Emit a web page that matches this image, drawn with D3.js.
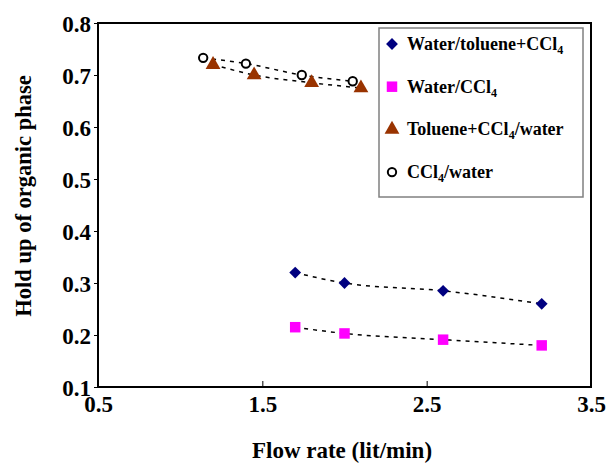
<!DOCTYPE html>
<html>
<head>
<meta charset="utf-8">
<script src="https://cdn.jsdelivr.net/npm/d3@7"></script>
<style>
  body { margin: 0; background: #fff; }
</style>
</head>
<body>
<div id="chart"></div>
<script>
// flow rate (lit/min) and hold up of organic phase
const flowWater = [1.7, 2.0, 2.6, 3.2]
const holdWaterTolueneCCl4 = [0.32, 0.30, 0.285, 0.26]
const holdWaterCCl4 = [0.215, 0.203, 0.191, 0.18]
const flowTolueneCCl4 = [1.2, 1.45, 1.8, 2.1]
const holdTolueneCCl4Water = [0.72, 0.70, 0.685, 0.675]
const flowCCl4 = [1.14, 1.4, 1.74, 2.05]
const holdCCl4Water = [0.733, 0.722, 0.70, 0.688]

const xTicks = [0.5, 1.5, 2.5, 3.5]
const yTicks = [0.1, 0.2, 0.3, 0.4, 0.5, 0.6, 0.7, 0.8]

// legend labels: [before subscript, subscript, after subscript]
const legendLabels = [
    ["Water/toluene+CCl", "4", ""],
    ["Water/CCl", "4", ""],
    ["Toluene+CCl", "4", "/water"],
    ["CCl", "4", "/water"]
]

const FONT = "'Times New Roman', 'Liberation Serif', 'DejaVu Serif', serif"

const config = {
    svgWidth: 607,
    svgHeight: 463,
    left: 98,
    right: 591,
    top: 23,
    bottom: 387
}

const series = [
    { x: flowWater, y: holdWaterTolueneCCl4, shape: "diamond", color: "#000080" },
    { x: flowWater, y: holdWaterCCl4, shape: "square", color: "#ff00ff" },
    { x: flowTolueneCCl4, y: holdTolueneCCl4Water, shape: "triangle", color: "#993300" },
    { x: flowCCl4, y: holdCCl4Water, shape: "circle", color: "#fff" }
]

var xScale = d3.scaleLinear().domain([0.5, 3.5]).range([config.left, config.right])
var yScale = d3.scaleLinear().domain([0.1, 0.8]).range([config.bottom, config.top])

const svg = d3.select("#chart")
    .append("svg")
    .attr("width", config.svgWidth)
    .attr("height", config.svgHeight)

// frame
svg.append("rect")
    .attr("x", config.left)
    .attr("y", config.top)
    .attr("width", config.right - config.left)
    .attr("height", config.bottom - config.top)
    .attr("fill", "none")
    .attr("stroke", "#000")
    .attr("stroke-width", 2)

// x axis, ticks pointing inward
const xAxis = svg.append("g")
    .attr("transform", `translate(0,${config.bottom})`)
    .call(d3.axisBottom(xScale).tickValues(xTicks).tickSizeInner(-6).tickSizeOuter(0)
        .tickFormat(d3.format(".1f")))
xAxis.select(".domain").remove()
xAxis.selectAll("line").attr("stroke-width", 1)
xAxis.selectAll("text")
    .attr("y", 25)
    .attr("dy", 0)
    .attr("font-size", 23)
    .attr("font-family", FONT)
    .attr("font-weight", "bold")
    .attr("fill", "#000")

// y axis
const yAxis = svg.append("g")
    .attr("transform", `translate(${config.left},0)`)
    .call(d3.axisLeft(yScale).tickValues(yTicks).tickSizeInner(4).tickSizeOuter(0)
        .tickFormat(d3.format(".1f")))
yAxis.select(".domain").remove()
yAxis.selectAll("line").attr("stroke-width", 1)
yAxis.selectAll("text")
    .attr("x", -7)
    .attr("dy", "0.35em")
    .attr("font-size", 23)
    .attr("font-family", FONT)
    .attr("font-weight", "bold")
    .attr("fill", "#000")

// axis titles
svg.append("text")
    .attr("x", 342)
    .attr("y", 458)
    .attr("text-anchor", "middle")
    .attr("font-size", 23)
    .attr("font-family", FONT)
    .attr("font-weight", "bold")
    .text("Flow rate (lit/min)")

svg.append("text")
    .attr("transform", "translate(31,196) rotate(-90)")
    .attr("text-anchor", "middle")
    .attr("font-size", 22.5)
    .attr("font-family", FONT)
    .attr("font-weight", "bold")
    .text("Hold up of organic phase")

// dashed trend lines
const line = d3.line()
    .x(d => xScale(d[0]))
    .y(d => yScale(d[1]))
    .curve(d3.curveMonotoneX)

series.forEach(s => {
    svg.append("path")
        .datum(s.x.map((v, i) => [v, s.y[i]]))
        .attr("d", line)
        .attr("fill", "none")
        .attr("stroke", "#000")
        .attr("stroke-width", 1.5)
        .attr("stroke-dasharray", "4,5")
})

const symbols = {
    diamond: d3.symbol().type(d3.symbolSquare).size(70),
    square: d3.symbol().type(d3.symbolSquare).size(110),
    triangle: d3.symbol().type(d3.symbolTriangle).size(95),
    circle: d3.symbol().type(d3.symbolCircle).size(55)
}

function drawMarker(g, shape, color) {
    const p = g.append("path")
        .attr("d", symbols[shape]())
        .attr("fill", color)
    if (shape === "diamond") p.attr("transform", "rotate(45)")
    if (shape === "circle") p.attr("stroke", "#000").attr("stroke-width", 2)
    return p
}

series.forEach(s => {
    s.x.forEach((v, i) => {
        const g = svg.append("g")
            .attr("transform", `translate(${xScale(v)},${yScale(s.y[i])})`)
        drawMarker(g, s.shape, s.color)
    })
})

// legend
svg.append("rect")
    .attr("x", 379)
    .attr("y", 28)
    .attr("width", 204)
    .attr("height", 169)
    .attr("fill", "#fff")
    .attr("stroke", "#808080")
    .attr("stroke-width", 1.5)
const legend = svg.append("g")

legendLabels.forEach((lab, i) => {
    const y = 44 + i * 42.7
    const g = legend.append("g").attr("transform", `translate(392,${y})`)
    drawMarker(g, series[i].shape, series[i].color)
    const t = legend.append("text")
        .attr("x", 407)
        .attr("y", y + 6)
        .attr("font-size", 18)
        .attr("font-family", FONT)
        .attr("font-weight", "bold")
    t.append("tspan").text(lab[0])
    t.append("tspan").attr("font-size", 12).attr("dy", 4).text(lab[1])
    if (lab[2]) t.append("tspan").attr("dy", -4).text(lab[2])
})
</script>
</body>
</html>
